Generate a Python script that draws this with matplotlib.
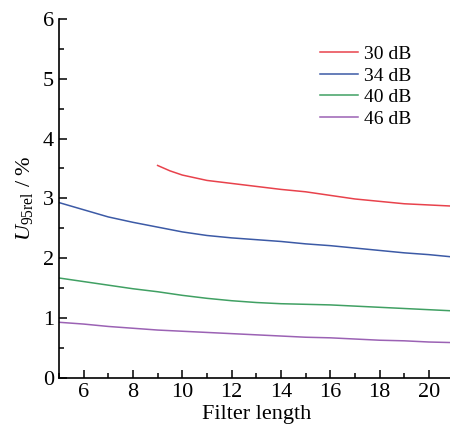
import matplotlib
matplotlib.use("Agg")
import matplotlib.pyplot as plt
from matplotlib.ticker import MultipleLocator

plt.rcParams['font.family'] = ['Liberation Serif', 'DejaVu Serif']
plt.rcParams['mathtext.fontset'] = 'custom'
plt.rcParams['mathtext.rm'] = 'Liberation Serif'
plt.rcParams['mathtext.it'] = 'Liberation Serif:italic'

x_red = [9, 9.5, 10, 11, 12, 13, 14, 15, 16, 17, 18, 19, 20, 21]
y_red = [3.55, 3.46, 3.39, 3.30, 3.25, 3.20, 3.15, 3.11, 3.05, 2.99, 2.95, 2.91, 2.89, 2.87]
x_all = [5, 6, 7, 8, 9, 10, 11, 12, 13, 14, 15, 16, 17, 18, 19, 20, 21]
y_blue = [2.93, 2.81, 2.69, 2.60, 2.52, 2.44, 2.38, 2.34, 2.31, 2.28, 2.24, 2.21, 2.17, 2.13, 2.09, 2.06, 2.02]
y_green = [1.67, 1.61, 1.55, 1.49, 1.44, 1.38, 1.33, 1.29, 1.26, 1.24, 1.23, 1.22, 1.20, 1.18, 1.16, 1.14, 1.12]
y_purple = [0.93, 0.90, 0.86, 0.83, 0.80, 0.78, 0.76, 0.74, 0.72, 0.70, 0.68, 0.67, 0.65, 0.63, 0.62, 0.60, 0.59]
labels = ['30 dB', '34 dB', '40 dB', '46 dB']
colors = ['#e8424c', '#3c5aa6', '#40a063', '#9b62b4']

fig = plt.figure(figsize=(4.5, 4.28), dpi=100)
ax = fig.add_axes([0.131, 0.117, 0.877, 0.839])
ax.plot(x_red, y_red, color=colors[0], lw=1.1, label=labels[0])
ax.plot(x_all, y_blue, color=colors[1], lw=1.1, label=labels[1])
ax.plot(x_all, y_green, color=colors[2], lw=1.1, label=labels[2])
ax.plot(x_all, y_purple, color=colors[3], lw=1.1, label=labels[3])

ax.set_xlim(5, 21)
ax.set_ylim(0, 6)
ax.xaxis.set_major_locator(MultipleLocator(2))
ax.xaxis.set_minor_locator(MultipleLocator(1))
ax.yaxis.set_major_locator(MultipleLocator(1))
ax.yaxis.set_minor_locator(MultipleLocator(0.5))
ax.spines['top'].set_visible(False)
ax.spines['right'].set_visible(False)
for s in ['left', 'bottom']:
    ax.spines[s].set_linewidth(1.2)
ax.tick_params(which='both', direction='in', width=1.1, labelsize=16)
ax.tick_params(which='major', length=6)
ax.tick_params(which='minor', length=3.5)
ax.set_xlabel('Filter length', fontsize=16, labelpad=2)
ax.set_ylabel(r'$U_{\rm 95rel}$ / %', fontsize=16, labelpad=6)

ax.legend(loc='upper right', bbox_to_anchor=(0.938, 0.974), frameon=False, fontsize=14,
          handlelength=2.0, handletextpad=0.3, labelspacing=0.2)

fig.savefig('out.png', dpi=100)
